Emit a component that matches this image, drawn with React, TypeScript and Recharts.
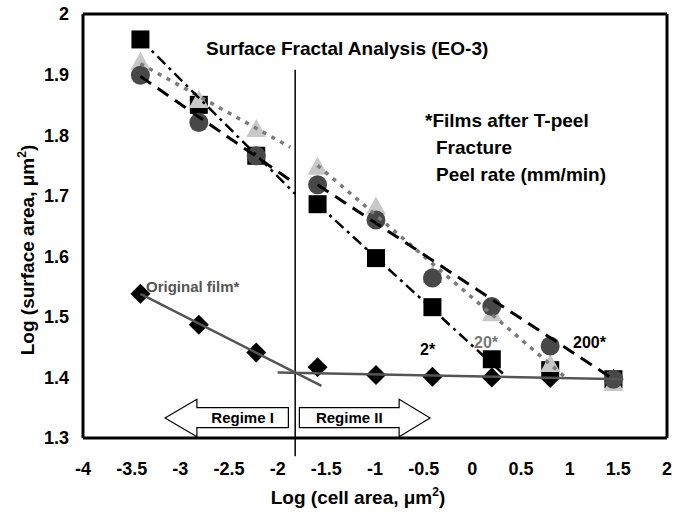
import { ScatterChart, Scatter, XAxis, YAxis, ReferenceLine, ReferenceArea } from "recharts";

// log cell area of each sampled scale
const cellArea = [-3.41, -2.81, -2.22, -1.59, -0.99, -0.41, 0.2, 0.8, 1.45];

// log surface area per peel rate (mm/min) and for the original film
const rate2 = [1.958, 1.85, 1.766, 1.686, 1.597, 1.516, 1.43, 1.412, 1.397];
const rate20 = [1.921, 1.858, 1.81, 1.748, 1.682, 1.569, 1.506, 1.422, 1.391];
const rate200 = [1.899, 1.821, 1.766, 1.718, 1.66, 1.564, 1.517, 1.452, 1.397];
const original = [1.538, 1.487, 1.441, 1.417, 1.404, 1.401, 1.4, 1.399, 1.397];

// fitted lines, [x, y] end points for regime I and regime II
const fit2 = [[[-3.41, 1.958], [-1.82, 1.703]], [[-1.59, 1.686], [0.33, 1.404]]];
const fit20 = [[[-3.41, 1.918], [-1.87, 1.78]], [[-1.59, 1.75], [0.95, 1.401]]];
const fit200 = [[[-3.41, 1.897], [-1.82, 1.72]], [[-1.59, 1.718], [1.45, 1.397]]];
const fitOriginal = [[[-3.41, 1.538], [-1.55, 1.386]], [[-2.0, 1.408], [1.55, 1.397]]];

// crossover between the two regimes
const crossover = -1.82;
const crossoverSpan = [1.908, 1.27];

const xTicks = [-4, -3.5, -3, -2.5, -2, -1.5, -1, -0.5, 0, 0.5, 1, 1.5, 2];
const yTicks = [1.3, 1.4, 1.5, 1.6, 1.7, 1.8, 1.9, 2];
const xMinor = Array.from({ length: 121 }, (_, i) => -4 + i * 0.05);
const yMinor = Array.from({ length: 36 }, (_, i) => 1.3 + i * 0.02);

// regime arrows: tip, neck (head base) and tail along x
const regimes = [
  { label: "Regime I", tip: -3.157, neck: -2.83, tail: -1.89 },
  { label: "Regime II", tip: -0.434, neck: -0.752, tail: -1.777 },
];
const arrowY = [1.302, 1.317, 1.35, 1.364];

const FONT = "'Liberation Sans', Arial, sans-serif";

const toPoints = (ys: number[]) => cellArea.map((x, i) => ({ x, y: ys[i] }));
const segPoints = (seg: number[][]) => seg.map(([x, y]) => ({ x, y }));

const square = (p: any) => <rect x={p.cx - 9} y={p.cy - 9} width={18} height={18} fill="#000" />;
const triangle = (p: any) => (
  <polygon points={`${p.cx},${p.cy - 10} ${p.cx + 10},${p.cy + 8} ${p.cx - 10},${p.cy + 8}`} fill="#c8c8c8" />
);
const circle = (p: any) => <circle cx={p.cx} cy={p.cy} r={9.5} fill="#484848" />;
const diamond = (p: any) => (
  <polygon points={`${p.cx},${p.cy - 10} ${p.cx + 10},${p.cy} ${p.cx},${p.cy + 10} ${p.cx - 10},${p.cy}`} fill="#000" />
);
const noDot = () => <g />;

function arrowShape(r: (typeof regimes)[number]) {
  return (p: any) => {
    const { x, y, width, height } = p;
    const lo = Math.min(r.tip, r.tail);
    const span = Math.abs(r.tail - r.tip);
    const px = (v: number) => x + ((v - lo) / span) * width;
    const [yLow, yBodyLow, yBodyHigh, yHigh] = arrowY;
    const py = (v: number) => y + ((yHigh - v) / (yHigh - yLow)) * height;
    const tip = px(r.tip);
    const neck = px(r.neck);
    const tail = px(r.tail);
    const mid = py((yLow + yHigh) / 2);
    const pts = [
      [tip, mid],
      [neck, py(yHigh)],
      [neck, py(yBodyHigh)],
      [tail, py(yBodyHigh)],
      [tail, py(yBodyLow)],
      [neck, py(yBodyLow)],
      [neck, py(yLow)],
    ];
    return (
      <g>
        <polygon points={pts.map((q) => q.join(",")).join(" ")} fill="#fff" stroke="#000" strokeWidth={1.2} />
        <text
          x={(neck + tail) / 2}
          y={(py(yBodyHigh) + py(yBodyLow)) / 2 + 5}
          textAnchor="middle"
          fontFamily={FONT}
          fontWeight="bold"
          fontSize={15}
        >
          {r.label}
        </text>
      </g>
    );
  };
}

const tickFont = { fontSize: 18, fontWeight: "bold", fill: "#000", fontFamily: FONT };

export default function App() {
  return (
    <div style={{ position: "absolute", left: 0, top: 0, width: 677, height: 516, background: "#fff" }}>
      <ScatterChart width={677} height={516} margin={{ top: 14, right: 10, bottom: 0, left: 0 }}>
        <XAxis
          type="number"
          dataKey="x"
          domain={[-4, 2]}
          ticks={xTicks}
          allowDataOverflow
          height={78}
          tickLine={false}
          tickSize={0}
          tickMargin={24}
          axisLine={{ stroke: "#000", strokeWidth: 3 }}
          tick={tickFont}
        />
        <YAxis
          type="number"
          dataKey="y"
          domain={[1.3, 2]}
          ticks={yTicks}
          allowDataOverflow
          width={83}
          tickLine={false}
          tickSize={0}
          tickMargin={14}
          axisLine={{ stroke: "#000", strokeWidth: 3 }}
          tick={tickFont}
        />
        <XAxis xAxisId="xMinor" type="number" domain={[-4, 2]} ticks={xMinor} allowDataOverflow mirror tick={false} axisLine={false} tickSize={3} tickLine={{ stroke: "#333", strokeWidth: 0.8 }} />
        <XAxis xAxisId="xMajor" type="number" domain={[-4, 2]} ticks={xTicks} allowDataOverflow mirror tick={false} axisLine={false} tickSize={6} tickLine={{ stroke: "#333", strokeWidth: 1 }} />
        <YAxis yAxisId="yMinor" type="number" domain={[1.3, 2]} ticks={yMinor} allowDataOverflow mirror tick={false} axisLine={false} tickSize={3} tickLine={{ stroke: "#333", strokeWidth: 0.8 }} />
        <YAxis yAxisId="yMajor" type="number" domain={[1.3, 2]} ticks={yTicks} allowDataOverflow mirror tick={false} axisLine={false} tickSize={6} tickLine={{ stroke: "#333", strokeWidth: 1 }} />

        {regimes.map((r) => (
          <ReferenceArea
            key={r.label}
            x1={Math.min(r.tip, r.tail)}
            x2={Math.max(r.tip, r.tail)}
            y1={arrowY[0]}
            y2={arrowY[3]}
            ifOverflow="visible"
            shape={arrowShape(r)}
          />
        ))}
        <ReferenceLine
          segment={[
            { x: crossover, y: crossoverSpan[0] },
            { x: crossover, y: crossoverSpan[1] },
          ]}
          ifOverflow="visible"
          stroke="#000"
          strokeWidth={1.5}
        />

        <Scatter data={toPoints(original)} shape={diamond} isAnimationActive={false} />
        <Scatter data={toPoints(rate2)} shape={square} isAnimationActive={false} />
        <Scatter data={toPoints(rate20)} shape={triangle} isAnimationActive={false} />
        <Scatter data={toPoints(rate200)} shape={circle} isAnimationActive={false} />

        {fitOriginal.map((s, i) => (
          <Scatter key={`o${i}`} data={segPoints(s)} shape={noDot} line={{ stroke: "#555", strokeWidth: 2.5 }} isAnimationActive={false} />
        ))}
        {fit20.map((s, i) => (
          <Scatter key={`t${i}`} data={segPoints(s)} shape={noDot} line={{ stroke: "#7a7a7a", strokeWidth: 3.5, strokeDasharray: "4 6" }} isAnimationActive={false} />
        ))}
        {fit200.map((s, i) => (
          <Scatter key={`c${i}`} data={segPoints(s)} shape={noDot} line={{ stroke: "#000", strokeWidth: 3, strokeDasharray: "13 8" }} isAnimationActive={false} />
        ))}
        {fit2.map((s, i) => (
          <Scatter key={`s${i}`} data={segPoints(s)} shape={noDot} line={{ stroke: "#000", strokeWidth: 2.5, strokeDasharray: "11 5 3 5" }} isAnimationActive={false} />
        ))}

        <ReferenceLine y={2} stroke="#000" strokeWidth={3} />
        <ReferenceLine x={2} stroke="#000" strokeWidth={3} />

        <g fontFamily={FONT} fontWeight="bold" fill="#000">
          <text x={206} y={55} fontSize={19}>Surface Fractal Analysis (EO-3)</text>
          <text x={425} y={127} fontSize={19}>*Films after T-peel</text>
          <text x={436} y={154} fontSize={19}>Fracture</text>
          <text x={436} y={181} fontSize={19}>Peel rate (mm/min)</text>
          <text x={146} y={292} fontSize={15} fill="#555">Original film*</text>
          <text x={420} y={355} fontSize={16}>2*</text>
          <text x={474} y={348} fontSize={16} fill="#777">20*</text>
          <text x={573} y={348} fontSize={16}>200*</text>
          <text x={358} y={504} fontSize={19} textAnchor="middle">
            Log (cell area, μm<tspan dy={-8} fontSize={12}>2</tspan><tspan dy={8}>)</tspan>
          </text>
          <text transform="translate(34,250) rotate(-90)" fontSize={19} textAnchor="middle">
            Log (surface area, μm<tspan dy={-8} fontSize={12}>2</tspan><tspan dy={8}>)</tspan>
          </text>
        </g>
      </ScatterChart>
    </div>
  );
}
